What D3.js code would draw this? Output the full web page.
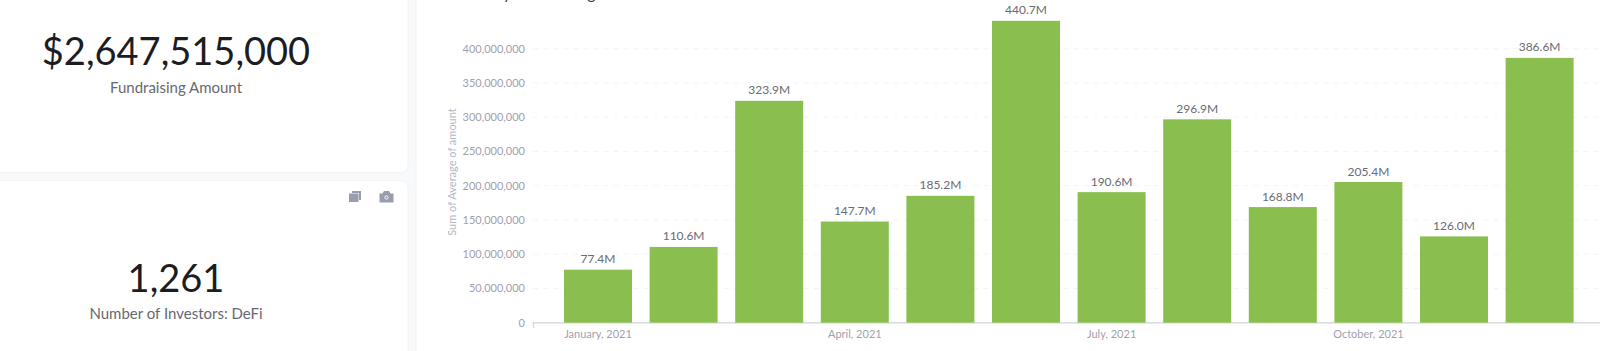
<!DOCTYPE html>
<html>
<head>
<meta charset="utf-8">
<title>Monthly Fundraising</title>
<script src="https://cdn.jsdelivr.net/npm/d3@7"></script>
<style>
  html, body { margin: 0; padding: 0; background: #f8f9fa; overflow: hidden; }
  svg { display: block; font-family: Lato, sans-serif; }
  .axis-y .domain, .axis-y .tick line, .axis-x .tick line { display: none; }
  .axis-y text, .axis-x text { font-family: Lato, sans-serif; font-size: 11px; fill: #a0a1ad; }
  .axis-x .domain { stroke: #d8dadd; stroke-width: 1.5; }
</style>
</head>
<body>
<div id="wrapper"></div>
<script>
//------------------------ Data
const months = ["2021-01","2021-02","2021-03","2021-04","2021-05","2021-06","2021-07","2021-08","2021-09","2021-10","2021-11","2021-12"]
const amounts = [77.4e6,110.6e6,323.9e6,147.7e6,185.2e6,440.7e6,190.6e6,296.9e6,168.8e6,205.4e6,126.0e6,386.6e6]
const yTicks = [0,50e6,100e6,150e6,200e6,250e6,300e6,350e6,400e6]
const xTicks = ["2021-01","2021-04","2021-07","2021-10"]
const xTickLabels = ["January, 2021","April, 2021","July, 2021","October, 2021"]

const kpiValues = ["$2,647,515,000","1,261"]
const kpiLabels = ["Fundraising Amount","Number of Investors: DeFi"]

//------------------------ Dimensions
const width = 1600
const height = 351

const wrapper = d3.select("#wrapper").append("svg")
    .attr("width", width)
    .attr("height", height)

//------------------------ Panels
wrapper.append("rect")
    .attr("x", -20).attr("y", -20)
    .attr("width", 428).attr("height", 192.5)
    .attr("rx", 7)
    .attr("fill", "#fff").attr("stroke", "#f3f4f5")

wrapper.append("rect")
    .attr("x", -20).attr("y", 180.5)
    .attr("width", 428).attr("height", 200)
    .attr("rx", 7)
    .attr("fill", "#fff").attr("stroke", "#f3f4f5")

wrapper.append("rect")
    .attr("x", 416).attr("y", -20)
    .attr("width", 1200).attr("height", 400)
    .attr("fill", "#fff").attr("stroke", "#f3f4f5")

//------------------------ KPI text
const kpiValueY = [65, 291.5]
const kpiLabelY = [92.5, 319]

wrapper.selectAll(".kpi-value")
    .data(kpiValues)
    .join("text")
    .attr("class", "kpi-value")
    .attr("x", 176)
    .attr("y", (d, i) => kpiValueY[i])
    .attr("text-anchor", "middle")
    .attr("font-size", 38)
    .attr("fill", "#1c1d22")
    .text(d => d)

wrapper.selectAll(".kpi-label")
    .data(kpiLabels)
    .join("text")
    .attr("class", "kpi-label")
    .attr("x", 176)
    .attr("y", (d, i) => kpiLabelY[i])
    .attr("text-anchor", "middle")
    .attr("font-size", 15)
    .attr("fill", "#67686f")
    .text(d => d)

//------------------------ Toolbar icons (copy, camera)
const iconColor = "#9a9dae"
const icons = wrapper.append("g")

icons.append("path")
    .attr("d", "M352 191h9v9h-2v-7h-7z")
    .attr("fill", iconColor)
icons.append("rect")
    .attr("x", 349).attr("y", 193.5)
    .attr("width", 9.5).attr("height", 8.5)
    .attr("fill", iconColor)

icons.append("path")
    .attr("d", "M379.5 193.5h3l1.5-2.5h5l1.5 2.5h3v9h-14z")
    .attr("fill", iconColor)
icons.append("circle")
    .attr("cx", 386.5).attr("cy", 197.5).attr("r", 1.6)
    .attr("fill", "none").attr("stroke", "#fff").attr("stroke-width", 1)

//------------------------ Title (cut off by the top of the crop)
wrapper.append("text")
    .attr("x", 452)
    .attr("y", -1)
    .attr("font-size", 16)
    .attr("fill", "#3b3c42")
    .text("Monthly Fundraising")

//------------------------ Scales
const yScale = d3.scaleLinear()
    .domain([0, 450e6])
    .range([322.7, 14.45])

const xScale = d3.scaleBand()
    .domain(months)
    .range([555.2, 1582.4])
    .paddingInner(0.2056)
    .paddingOuter(0.1028)

//------------------------ Grid
wrapper.append("g")
    .selectAll("line")
    .data(yTicks.slice(1))
    .join("line")
    .attr("x1", 533.5)
    .attr("x2", width)
    .attr("y1", d => yScale(d))
    .attr("y2", d => yScale(d))
    .attr("stroke", "#f3f4f5")
    .attr("stroke-dasharray", "5 5")

//------------------------ Axes
const yAxisGenerator = d3.axisLeft(yScale)
    .tickValues(yTicks)
    .tickFormat(d3.format(","))
    .tickSize(0)
    .tickPadding(0)

wrapper.append("g")
    .attr("class", "axis-y")
    .attr("transform", "translate(525,0)")
    .call(yAxisGenerator)

const xAxisGenerator = d3.axisBottom(xScale)
    .tickValues(xTicks)
    .tickFormat((d, i) => xTickLabels[i])
    .tickSize(0)
    .tickPadding(8)

const xAxis = wrapper.append("g")
    .attr("class", "axis-x")
    .attr("transform", `translate(0,${yScale(0)})`)
    .call(xAxisGenerator)

xAxis.select(".domain")
    .attr("d", `M533.5,5.5V0H${width}`)
    .attr("fill", "none")

wrapper.append("text")
    .attr("transform", `translate(451,172) rotate(-90)`)
    .attr("text-anchor", "middle")
    .attr("dominant-baseline", "central")
    .attr("font-size", 11)
    .attr("fill", "#b4b7c4")
    .text("Sum of Average of amount")

//------------------------ Bars
wrapper.append("g")
    .selectAll("rect")
    .data(amounts)
    .join("rect")
    .attr("x", (d, i) => xScale(months[i]))
    .attr("y", d => yScale(d))
    .attr("width", xScale.bandwidth())
    .attr("height", d => yScale(0) - yScale(d))
    .attr("fill", "#8abf4f")

//------------------------ Bar labels
const labelFormat = d => (d / 1e6).toFixed(1) + "M"

wrapper.append("g")
    .selectAll("text")
    .data(amounts)
    .join("text")
    .attr("x", (d, i) => xScale(months[i]) + xScale.bandwidth() / 2)
    .attr("y", d => yScale(d) - 6.5)
    .attr("text-anchor", "middle")
    .attr("font-size", 12)
    .attr("fill", "#6a6b72")
    .text(labelFormat)
</script>
</body>
</html>
